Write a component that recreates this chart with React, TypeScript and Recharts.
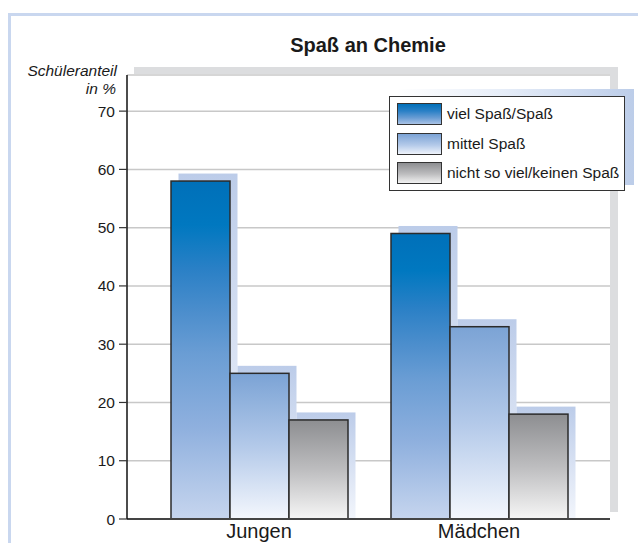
import { BarChart, Bar, XAxis, YAxis, CartesianGrid, Legend } from 'recharts';

const categories = ['Jungen', 'Mädchen'];
const vielSpass = [58, 49];
const mittelSpass = [25, 33];
const keinSpass = [17, 18];
const seriesNames = ['viel Spaß/Spaß', 'mittel Spaß', 'nicht so viel/keinen Spaß'];
const yTicks = [0, 10, 20, 30, 40, 50, 60, 70];

const data = categories.map((name, i) => ({
  name,
  viel: vielSpass[i],
  mittel: mittelSpass[i],
  kein: keinSpass[i],
}));

const FONT = '"Liberation Sans", Arial, Helvetica, sans-serif';
const DEPTH = 7.5;

// css versions of the bar gradients, used for the legend swatches
const SWATCHES = [
  'linear-gradient(to bottom, #0070b9 0%, #2a80c6 35%, #6a9dd4 70%, #a9c3e6 100%)',
  'linear-gradient(to bottom, #7ba3d5 0%, #b3c9e9 55%, #eef3fb 100%)',
  'linear-gradient(to bottom, #8d8e91 0%, #bdbdbf 55%, #f2f2f2 100%)',
];

const makeShape = (gradId: string) => (props: any) => {
  const { x, y, width, height } = props;
  if (width == null || height == null) return null;
  return (
    <g>
      <rect x={x + DEPTH} y={y - DEPTH} width={width} height={height + DEPTH} fill="url(#shadowGrad)" />
      <rect x={x} y={y} width={width} height={height} fill={`url(#${gradId})`} stroke="#2b2b2b" strokeWidth={1.5} />
    </g>
  );
};

function LegendBox() {
  return (
    <div style={{ position: 'relative', width: 250, height: 110, fontFamily: FONT }}>
      <div
        style={{
          position: 'absolute', left: 13.5, top: 0, width: 237, height: 96,
          background: 'linear-gradient(to right, #ffffff 0%, #e6edf8 45%, #bccde9 100%)',
        }}
      />
      <div
        style={{
          position: 'absolute', left: 6, top: 7, width: 236, height: 95,
          background: '#fff', border: '1px solid #333', boxSizing: 'border-box',
        }}
      >
        {seriesNames.map((s, i) => (
          <div key={s} style={{ position: 'absolute', left: 7, top: 6 + i * 29.5, height: 22, display: 'flex', alignItems: 'center' }}>
            <div style={{ width: 45, height: 22, boxSizing: 'border-box', border: '1.5px solid #333', background: SWATCHES[i] }} />
            <span style={{ marginLeft: 5, fontSize: 15.5, color: '#1a1a1a', whiteSpace: 'nowrap' }}>{s}</span>
          </div>
        ))}
      </div>
    </div>
  );
}

export default function App() {
  return (
    <div style={{ position: 'absolute', left: 0, top: 0, width: 638, height: 543, overflow: 'hidden', background: '#fff' }}>
      {/* frame, backdrop and headings */}
      <svg width={638} height={543} style={{ position: 'absolute', left: 0, top: 0 }}>
        <rect x={9.5} y={14.5} width={700} height={600} fill="none" stroke="#c9d7ef" strokeWidth={3} />
        <rect x={134} y={67} width={484} height={7} fill="#dcdddf" />
        <rect x={610} y={67} width={8} height={445} fill="#dcdddf" />
        <text x={368} y={52} textAnchor="middle" fontFamily={FONT} fontWeight="bold" fontSize={20} fill="#1a1a1a">
          Spaß an Chemie
        </text>
        <text fontFamily={FONT} fontStyle="italic" fontSize={15.5} fill="#1a1a1a" textAnchor="end">
          <tspan x={117} y={76}>Schüleranteil</tspan>
          <tspan x={116} y={94}>in %</tspan>
        </text>
      </svg>
      <div style={{ position: 'absolute', left: 0, top: 0 }}>
        <BarChart
          width={638}
          height={543}
          data={data}
          margin={{ top: 75, right: 28, bottom: 0, left: 0 }}
          barGap={0}
          barSize={59}
        >
          <defs>
            <linearGradient id="gradViel" x1="0" y1="0" x2="0" y2="1">
              <stop offset="0" stopColor="#0070b9" />
              <stop offset="0.13" stopColor="#0078c0" />
              <stop offset="0.26" stopColor="#2a80c6" />
              <stop offset="0.38" stopColor="#4a8dcc" />
              <stop offset="0.51" stopColor="#6a9dd4" />
              <stop offset="0.73" stopColor="#8fb0de" />
              <stop offset="1" stopColor="#c6d5ee" />
            </linearGradient>
            <linearGradient id="gradMittel" x1="0" y1="0" x2="0" y2="1">
              <stop offset="0" stopColor="#7ba3d5" />
              <stop offset="0.5" stopColor="#b3c9e9" />
              <stop offset="1" stopColor="#f4f7fd" />
            </linearGradient>
            <linearGradient id="gradKein" x1="0" y1="0" x2="0" y2="1">
              <stop offset="0" stopColor="#8d8e91" />
              <stop offset="0.5" stopColor="#bdbdbf" />
              <stop offset="1" stopColor="#f6f6f6" />
            </linearGradient>
            <linearGradient id="shadowGrad" x1="0" y1="0" x2="0" y2="1">
              <stop offset="0" stopColor="#bccce9" />
              <stop offset="1" stopColor="#f3f6fc" />
            </linearGradient>
          </defs>
          <CartesianGrid vertical={false} stroke="#c8c8c8" strokeWidth={1.5} />
          <XAxis
            dataKey="name"
            height={24}
            padding={{ left: 22, right: 21 }}
            tickLine={false}
            tickSize={3}
            axisLine={{ stroke: '#444', strokeWidth: 2 }}
            tick={{ fontSize: 20, fill: '#1a1a1a', fontFamily: FONT }}
          />
          <YAxis
            width={127}
            domain={[0, 76.2]}
            ticks={yTicks}
            interval={0}
            tickSize={8}
            tickMargin={4}
            axisLine={{ stroke: '#111', strokeWidth: 1.5 }}
            tickLine={{ stroke: '#333', strokeWidth: 1.2 }}
            tick={{ fontSize: 15.5, fill: '#1a1a1a', fontFamily: FONT }}
          />
          <Legend
            layout="vertical"
            align="center"
            verticalAlign="middle"
            content={() => <LegendBox />}
            wrapperStyle={{ left: 383, top: 89, width: 252, height: 110 }}
          />
          <Bar dataKey="viel" name={seriesNames[0]} shape={makeShape('gradViel')} isAnimationActive={false} />
          <Bar dataKey="mittel" name={seriesNames[1]} shape={makeShape('gradMittel')} isAnimationActive={false} />
          <Bar dataKey="kein" name={seriesNames[2]} shape={makeShape('gradKein')} isAnimationActive={false} />
        </BarChart>
      </div>
    </div>
  );
}
